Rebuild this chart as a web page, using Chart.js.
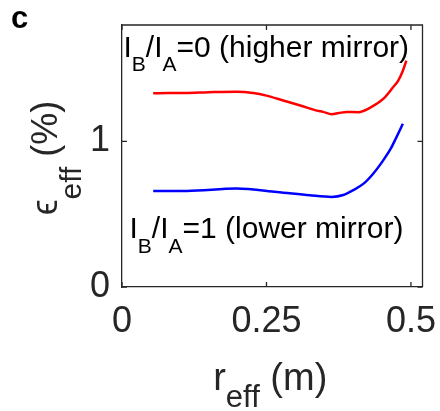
<!DOCTYPE html>
<html><head><meta charset="utf-8">
<script src="https://cdn.jsdelivr.net/npm/chart.js@4.4.1/dist/chart.umd.min.js"></script>
<style>html,body{margin:0;padding:0;background:#fff;}#wrap{width:440px;height:411px;position:relative;}</style>
</head><body><div id="wrap"><canvas id="chart"></canvas></div>
<script>
// ---- data ----
const xTickValues = [0, 0.25, 0.5];
const xTickLabels = ["0", "0.25", "0.5"];
const yTickValues = [0, 1];
const yTickLabels = ["0", "1"];

const rHigher   = [0.054, 0.080, 0.112, 0.150, 0.198, 0.227, 0.250, 0.279, 0.310, 0.337, 0.348, 0.363, 0.375, 0.389, 0.409, 0.429, 0.452, 0.469, 0.478, 0.486, 0.492];
const epsHigher = [1.331, 1.332, 1.333, 1.338, 1.342, 1.333, 1.315, 1.281, 1.245, 1.212, 1.203, 1.187, 1.195, 1.203, 1.201, 1.231, 1.292, 1.372, 1.418, 1.486, 1.555];

const rLower    = [0.054, 0.112, 0.198, 0.268, 0.325, 0.363, 0.383, 0.400, 0.418, 0.435, 0.452, 0.465, 0.475, 0.486];
const epsLower  = [0.660, 0.660, 0.676, 0.653, 0.630, 0.619, 0.632, 0.665, 0.710, 0.780, 0.870, 0.950, 1.030, 1.121];

const seriesNames = ["I_B/I_A=0 (higher mirror)", "I_B/I_A=1 (lower mirror)"];
const labelHigher = [["I",0],["B",1],["/I",0],["A",1],["=0 (higher mirror)",0]];
const labelLower  = [["I",0],["B",1],["/I",0],["A",1],["=1 (lower mirror)",0]];
const xTitle = [["r",0],["eff",1],[" (m)",0]];
const yTitle = [["\u03F5",0],["eff",1],[" (%)",0]];
const panelLetter = "c";

const FONT = '"Liberation Sans", Arial, Helvetica, sans-serif';
const AXIS_COLOR = '#262626';

function toPts(xs, ys){ return xs.map((x,i)=>({x:x, y:ys[i]})); }

function drawParts(ctx, parts, x, y, mainSize, subSize, subOff, align){
  let total = 0;
  const widths = parts.map(p=>{
    ctx.font = (p[1]? subSize : mainSize) + 'px ' + FONT;
    const w = ctx.measureText(p[0]).width; total += w; return w;
  });
  let cx = align === 'center' ? x - total/2 : x;
  parts.forEach((p,i)=>{
    ctx.font = (p[1]? subSize : mainSize) + 'px ' + FONT;
    ctx.fillText(p[0], cx, y + (p[1]? subOff : 0));
    cx += widths[i];
  });
}

const boxPlugin = {
  id: 'boxPlugin',
  afterDraw(chart){
    const ctx = chart.ctx, a = chart.chartArea;
    const xs = chart.scales.x, ys = chart.scales.y;
    ctx.save();
    ctx.strokeStyle = AXIS_COLOR; ctx.lineWidth = 1.3;
    ctx.beginPath();
    ctx.moveTo(a.left, a.top); ctx.lineTo(a.right, a.top); ctx.lineTo(a.right, a.bottom);
    ctx.stroke();
    const tl = 5;
    ctx.beginPath();
    xTickValues.forEach(v=>{
      const px = xs.getPixelForValue(v);
      ctx.moveTo(px, a.bottom); ctx.lineTo(px, a.bottom - tl);
      ctx.moveTo(px, a.top); ctx.lineTo(px, a.top + tl);
    });
    yTickValues.forEach(v=>{
      const py = ys.getPixelForValue(v);
      ctx.moveTo(a.left, py); ctx.lineTo(a.left + tl, py);
      ctx.moveTo(a.right, py); ctx.lineTo(a.right - tl, py);
    });
    ctx.stroke();

    ctx.textBaseline = 'alphabetic';
    ctx.fillStyle = '#000';
    drawParts(ctx, labelHigher, a.left + 1.5, 56.5, 30, 21, 14.5, 'left');
    drawParts(ctx, labelLower, a.left + 7.5, 238, 30, 21, 14.5, 'left');

    ctx.font = 'bold 31px ' + FONT;
    ctx.fillText(panelLetter, 11, 28);

    ctx.fillStyle = AXIS_COLOR;
    drawParts(ctx, xTitle, (a.left + a.right)/2 - 2, 390, 38, 31, 17, 'center');

    ctx.save();
    ctx.translate(57, 158);
    ctx.rotate(-Math.PI/2);
    drawParts(ctx, yTitle, 0, 0, 36, 30, 24, 'center');
    ctx.restore();
    ctx.restore();
  }
};

function zeroPad(s){ s.paddingTop = 0; s.paddingBottom = 0; s.paddingLeft = 0; s.paddingRight = 0; }

new Chart(document.getElementById('chart'), {
  type: 'line',
  data: {
    datasets: [
      { label: seriesNames[0], data: toPts(rHigher, epsHigher), borderColor: '#ff0000', borderWidth: 2.5,
        pointRadius: 0, fill: false, cubicInterpolationMode: 'monotone' },
      { label: seriesNames[1], data: toPts(rLower, epsLower), borderColor: '#0000ff', borderWidth: 2.5,
        pointRadius: 0, fill: false, cubicInterpolationMode: 'monotone' }
    ]
  },
  options: {
    responsive: true, maintainAspectRatio: false, animation: false, devicePixelRatio: 1,
    layout: { padding: { left: 0, right: 17.5, top: 25, bottom: 0 } },
    plugins: { legend: { display: false }, tooltip: { enabled: false } },
    scales: {
      x: {
        type: 'linear', min: 0, max: 0.52,
        afterFit: s => { s.height = 124; zeroPad(s); },
        afterBuildTicks: s => { s.ticks = xTickValues.map(v=>({value:v})); },
        grid: { display: false, drawTicks: false },
        border: { display: true, color: AXIS_COLOR, width: 1.3 },
        ticks: { padding: 13, color: AXIS_COLOR, font: { family: FONT, size: 36 }, maxRotation: 0, autoSkip: false,
          callback: (v) => { const i = xTickValues.indexOf(v); return i >= 0 ? xTickLabels[i] : ''; } }
      },
      y: {
        type: 'linear', min: 0, max: 1.8,
        afterFit: s => { s.width = 122; zeroPad(s); },
        afterBuildTicks: s => { s.ticks = yTickValues.map(v=>({value:v})); },
        grid: { display: false, drawTicks: false },
        border: { display: true, color: AXIS_COLOR, width: 1.3 },
        ticks: { padding: 12, color: AXIS_COLOR, font: { family: FONT, size: 36 }, autoSkip: false,
          callback: (v) => { const i = yTickValues.indexOf(v); return i >= 0 ? yTickLabels[i] : ''; } }
      }
    }
  },
  plugins: [boxPlugin]
});
</script></body></html>
